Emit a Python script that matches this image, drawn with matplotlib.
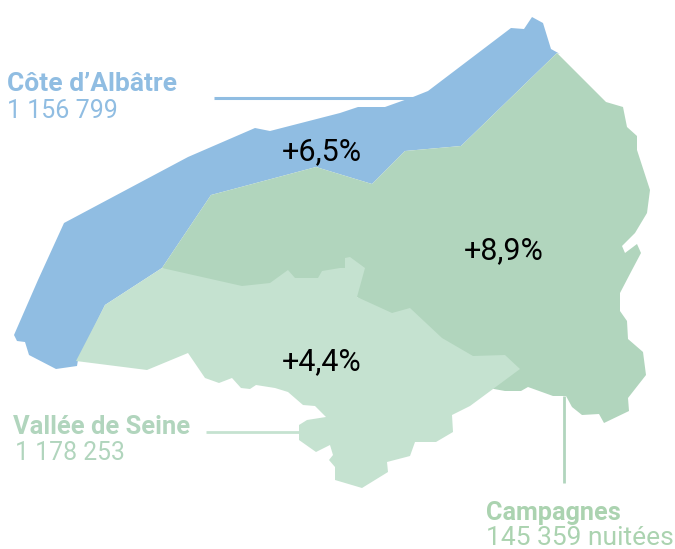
import matplotlib
matplotlib.use("Agg")
import matplotlib.pyplot as plt
from matplotlib.patches import Polygon

# Region names, figures and growth labels
region_names = ["Côte d'Albâtre".replace("'", "’"), "Vallée de Seine", "Campagnes"]
region_nights = ["1 156 799", "1 178 253", "145 359 nuitées"]
growth_labels = ["+6,5%", "+4,4%", "+8,9%"]

# Region outlines
cote_albatre = [(14,335),(17,341),(25,342),(29,355),(56,369),(77,366),(78,360),(105,305),(162,268),
                (211,195),(316,167),(372,184),(405,151),(461,146),(557,53),(560,54),(551,49),
                (543,23),(532,17),(524,29),(511,28),(428,91),(413,97),(385,107),(358,107),
                (340,113),(270,131),(255,128),(188,157),(64,223),(38,280)]
campagnes = [(162,268),(211,195),(316,167),(372,184),(405,151),(461,146),(557,53),(606,102),(623,107),
             (627,127),(637,136),(637,150),(650,190),(647,213),(635,233),(622,246),(625,253),(637,244),
             (641,253),(632,270),(620,293),(620,311),(627,321),(628,339),(643,352),(646,375),(628,398),
             (629,411),(604,423),(599,414),(582,415),(572,407),(566,396),(553,396),(528,387),(521,391),
             (505,391),(494,389),(470,380),(357,297),(300,290),(200,290)]
vallee_seine = [(76,361),(105,305),(162,268),(242,286),(270,283),(288,270),(295,278),(318,278),(322,271),
                (340,268),(345,268),(345,258),(350,257),(365,268),(357,297),(392,313),(410,308),(442,338),
                (473,356),(505,355),(520,369),(493,389),(470,406),(452,415),(453,432),(436,442),(415,442),
                (410,456),(387,462),(388,472),(362,488),(335,480),(335,467),(329,460),(333,455),(330,445),
                (316,452),(299,440),(299,425),(307,420),(326,417),(315,406),(303,405),(288,392),(275,388),
                (256,385),(250,389),(241,388),(232,378),(219,383),(205,378),(188,353),(147,370)]

BLUE = "#90BDE2"
DARK = "#B1D5BD"
LIGHT = "#C5E2D0"
TITLE_GREEN = "#ABD3B0"
FONT = ["Roboto", "DejaVu Sans"]

fig = plt.figure(figsize=(6.75, 5.49), dpi=100)
ax = fig.add_axes([0, 0, 1, 1])
ax.set_xlim(0, 675)
ax.set_ylim(549, 0)
ax.axis("off")

ax.add_patch(Polygon(cote_albatre, closed=True, fc=BLUE, ec="none", zorder=1))
ax.add_patch(Polygon(campagnes, closed=True, fc=DARK, ec="none", zorder=2))
ax.add_patch(Polygon(vallee_seine, closed=True, fc=LIGHT, ec="none", zorder=3))

ax.plot([214, 415], [98, 98], color=BLUE, lw=2.2, solid_capstyle="butt", zorder=0)
ax.plot([206, 300], [432, 432], color=LIGHT, lw=2.0, solid_capstyle="butt", zorder=0)
ax.plot([564, 564], [396, 483], color=DARK, lw=2.0, solid_capstyle="butt", zorder=0)

ax.text(7, 91, region_names[0], color=BLUE, fontsize=19, fontweight="bold", family=FONT, va="baseline")
ax.text(7, 118, region_nights[0], color=BLUE, fontsize=18, fontweight="normal", family=FONT, va="baseline")
ax.text(13, 434, region_names[1], color=DARK, fontsize=18.4, fontweight="bold", family=FONT, va="baseline")
ax.text(15, 460, region_nights[1], color=DARK, fontsize=17.8, fontweight="normal", family=FONT, va="baseline")
ax.text(486, 520, region_names[2], color=TITLE_GREEN, fontsize=18.2, fontweight="bold", family=FONT, va="baseline")
ax.text(486, 545, region_nights[2], color=TITLE_GREEN, fontsize=19, fontweight="normal", family=FONT, va="baseline")

for (x, y), lab in zip([(322, 160), (322, 370), (504, 259)], growth_labels):
    ax.text(x, y, lab, color="black", fontsize=22, fontweight="normal", family=FONT, ha="center", va="baseline", zorder=5)

fig.savefig("out.png", dpi=100)
